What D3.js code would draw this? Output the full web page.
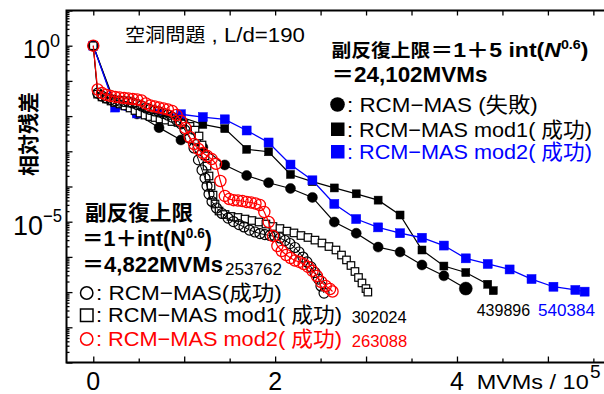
<!DOCTYPE html>
<html>
<head>
<meta charset="utf-8">
<script src="https://cdn.jsdelivr.net/npm/d3@7"></script>
<style>
  html, body { margin: 0; padding: 0; background: #fff; }
  svg { display: block; }
  text { white-space: pre; }
</style>
</head>
<body>
<svg id="chart" width="604" height="394"></svg>
<script>
// Convergence history: relative residual vs. number of MVMs (in units of 1e5)

// RCM-MAS (失敗), restart limit 24,102 MVMs
const failX = [0, 0.241, 0.482, 0.723, 0.964, 1.205, 1.446, 1.687, 1.928, 2.169, 2.410, 2.651, 2.892, 3.133, 3.374, 3.615, 3.856, 4.097];
const failY = [1, 2.2e-2, 1.15e-2, 4.7e-3, 2.1e-3, 1.3e-3, 4.1e-4, 2.05e-4, 1.28e-4, 8.8e-5, 4.9e-5, 9.8e-6, 4.7e-6, 1.9e-6, 1.38e-6, 5.9e-7, 2.9e-7, 1.26e-7];

// RCM-MAS mod1 (成功), restart limit 24,102 MVMs, total 439896
const mod1LongX = [0, 0.241, 0.482, 0.723, 0.964, 1.205, 1.446, 1.687, 1.928, 2.169, 2.410, 2.651, 2.892, 3.133, 3.374, 3.615, 3.856, 4.097, 4.338, 4.399];
const mod1LongY = [1, 1.94e-2, 1.3e-2, 1.07e-2, 9.4e-3, 5.8e-3, 4.4e-3, 1.14e-3, 9.7e-4, 2.2e-4, 1.37e-4, 9.1e-5, 6.2e-5, 4.1e-5, 1.55e-5, 1.57e-6, 5.5e-7, 3.6e-7, 1.67e-7, 1.1e-7];

// RCM-MAS mod2 (成功), restart limit 24,102 MVMs, total 540384
const mod2LongX = [0, 0.241, 0.482, 0.723, 0.964, 1.205, 1.446, 1.687, 1.928, 2.169, 2.410, 2.651, 2.892, 3.133, 3.374, 3.615, 3.856, 4.097, 4.338, 4.579, 4.820, 5.061, 5.302, 5.404];
const mod2LongY = [1, 1.75e-2, 1.19e-2, 1.15e-2, 1.13e-2, 9.4e-3, 8.1e-3, 3.9e-3, 1.78e-3, 4.2e-4, 1.5e-4, 3.2e-5, 1.19e-5, 6.9e-6, 4.7e-6, 3.5e-6, 2.1e-6, 9.1e-7, 6.3e-7, 4.4e-7, 2.35e-7, 1.42e-7, 1.15e-7, 1.03e-7];

// RCM-MAS (成功), restart limit 4,822 MVMs, total 253762
const rcmShortX = [0, 0.048, 0.096, 0.145, 0.195, 0.239, 0.289, 0.338, 0.386, 0.433, 0.481, 0.530, 0.580, 0.624, 0.675, 0.723, 0.771, 0.819, 0.866, 0.916, 0.965, 1.009, 1.060, 1.108, 1.157, 1.196, 1.229, 1.251, 1.273, 1.306, 1.355, 1.416, 1.482, 1.542, 1.603, 1.658, 1.718, 1.778, 1.833, 1.888, 1.943, 1.998, 2.053, 2.108, 2.163, 2.218, 2.262, 2.306, 2.350, 2.394, 2.438, 2.477, 2.504, 2.538];
const rcmShortY = [1, 4.5e-2, 3.7e-2, 3.27e-2, 2.96e-2, 2.77e-2, 2.68e-2, 2.6e-2, 2.52e-2, 2.36e-2, 2.14e-2, 1.94e-2, 1.7e-2, 1.54e-2, 1.4e-2, 1.31e-2, 1.19e-2, 1.07e-2, 9.4e-3, 7.7e-3, 6.0e-3, 4.0e-3, 2.39e-3, 1.24e-3, 5.7e-4, 2.94e-4, 1.74e-4, 1.03e-4, 6.1e-5, 3.75e-5, 2.45e-5, 1.71e-5, 1.27e-5, 1.01e-5, 8.3e-6, 7.1e-6, 5.8e-6, 5.1e-6, 4.6e-6, 4.3e-6, 4.05e-6, 3.8e-6, 3.44e-6, 2.92e-6, 2.4e-6, 1.85e-6, 1.38e-6, 9.9e-7, 7.2e-7, 5.2e-7, 3.6e-7, 2.35e-7, 1.49e-7, 9.4e-8];

// RCM-MAS mod1 (成功), restart limit 4,822 MVMs, total 302024
const mod1ShortX = [0, 0.048, 0.096, 0.145, 0.195, 0.239, 0.294, 0.349, 0.404, 0.459, 0.514, 0.569, 0.624, 0.679, 0.734, 0.800, 0.866, 0.932, 0.998, 1.064, 1.119, 1.163, 1.196, 1.229, 1.251, 1.273, 1.295, 1.317, 1.339, 1.383, 1.449, 1.515, 1.592, 1.669, 1.746, 1.823, 1.899, 1.976, 2.053, 2.130, 2.207, 2.284, 2.361, 2.438, 2.515, 2.592, 2.669, 2.730, 2.785, 2.834, 2.878, 2.917, 2.955, 2.999, 3.020];
const mod1ShortY = [1, 4.2e-2, 3.5e-2, 3.06e-2, 2.68e-2, 2.43e-2, 2.21e-2, 1.94e-2, 1.7e-2, 1.44e-2, 1.22e-2, 1.07e-2, 9.7e-3, 9.1e-3, 8.3e-3, 7.7e-3, 7.0e-3, 6.6e-3, 6.0e-3, 5.1e-3, 4.0e-3, 2.72e-3, 1.51e-3, 7.4e-4, 3.8e-4, 1.99e-4, 1.03e-4, 5.7e-5, 3.18e-5, 2.01e-5, 1.6e-5, 1.41e-5, 1.32e-5, 1.19e-5, 1.08e-5, 9.8e-6, 8.6e-6, 7.3e-6, 6.4e-6, 5.4e-6, 4.8e-6, 4.05e-6, 3.56e-6, 3.0e-6, 2.48e-6, 1.97e-6, 1.57e-6, 1.13e-6, 8.2e-7, 5.7e-7, 3.85e-7, 2.6e-7, 1.82e-7, 1.26e-7, 1.0e-7];

// RCM-MAS mod2 (成功), restart limit 4,822 MVMs, total 263088
const mod2ShortX = [0, 0.048, 0.096, 0.145, 0.193, 0.241, 0.289, 0.338, 0.386, 0.434, 0.482, 0.530, 0.579, 0.627, 0.675, 0.723, 0.772, 0.820, 0.868, 0.916, 0.964, 1.013, 1.061, 1.109, 1.157, 1.206, 1.254, 1.302, 1.350, 1.398, 1.447, 1.495, 1.543, 1.591, 1.640, 1.688, 1.736, 1.784, 1.832, 1.881, 1.929, 1.977, 2.025, 2.073, 2.122, 2.170, 2.218, 2.266, 2.315, 2.363, 2.411, 2.459, 2.507, 2.556, 2.604, 2.631];
const mod2ShortY = [1, 5.7e-2, 4.5e-2, 4.0e-2, 3.7e-2, 3.5e-2, 3.4e-2, 3.27e-2, 3.16e-2, 3.06e-2, 2.96e-2, 2.77e-2, 2.28e-2, 2.0e-2, 1.87e-2, 1.75e-2, 1.64e-2, 1.54e-2, 1.4e-2, 1.07e-2, 7.3e-3, 4.6e-3, 2.55e-3, 1.61e-3, 1.16e-3, 8.9e-4, 7.3e-4, 6.0e-4, 4.4e-4, 1.43e-4, 5.4e-5, 4.4e-5, 4.1e-5, 4.0e-5, 3.87e-5, 3.63e-5, 3.5e-5, 3.29e-5, 2.98e-5, 1.89e-5, 9.8e-6, 3.9e-6, 2.04e-6, 1.47e-6, 1.13e-6, 9.3e-7, 7.9e-7, 7.2e-7, 6.3e-7, 5.2e-7, 4.0e-7, 2.86e-7, 1.94e-7, 1.49e-7, 1.22e-7, 1.04e-7];

// Axis tick labels
const xTickLabels = [0, 2, 4];
const yTickLabels = [{ v: 1, exp: "0" }, { v: 1e-5, exp: "−5" }];

const FONT = "'Liberation Sans', Arial, 'Noto Sans CJK JP', sans-serif";
const BLUE = "#0000ff", RED = "#ff0000";

const svg = d3.select("#chart");

const x = d3.scaleLinear().domain([-0.3, 5.65]).range([66, 607]);
const y = d3.scaleLog().domain([1e-9, 1e1]).range([362.5, 10.5]);

const [xL, xR] = [66.5, 606];
const [yT, yB] = [y(1e1), y(1e-9)];

// ---- axes (ticks point inward) ----
const halfSteps = d3.range(0, 5.51, 0.5);
const wholeSteps = d3.range(0, 5.01, 1);
function clean(g) { g.select(".domain").remove(); g.selectAll("line").attr("stroke", "#000").attr("stroke-width", 1.3); }

svg.append("g").attr("transform", `translate(0,${yB})`)
  .call(d3.axisBottom(x).tickValues(halfSteps.filter(v => v % 1 !== 0)).tickSize(-4).tickFormat(""))
  .call(clean);
svg.append("g").attr("transform", `translate(0,${yB})`)
  .call(d3.axisBottom(x).tickValues(wholeSteps).tickSize(-6).tickFormat(""))
  .call(clean);
svg.append("g").attr("transform", `translate(0,${yT})`)
  .call(d3.axisTop(x).tickValues(halfSteps).tickSize(-5).tickFormat(""))
  .call(clean);

const decades = d3.range(-9, 2).map(e => Math.pow(10, e));
const minors = [];
decades.slice(0, -1).forEach(d => { for (let m = 2; m <= 9; m++) minors.push(d * m); });
svg.append("g").attr("transform", `translate(${xL},0)`)
  .call(d3.axisLeft(y).tickValues(decades).tickSize(-6).tickFormat(""))
  .call(clean);
svg.append("g").attr("transform", `translate(${xL},0)`)
  .call(d3.axisLeft(y).tickValues(minors).tickSize(-3).tickFormat(""))
  .call(clean);

// frame
svg.append("path")
  .attr("d", `M${xR},${yT}H${xL}V${yB}H${xR}`)
  .attr("fill", "none").attr("stroke", "#000").attr("stroke-width", 2);

// ---- text helper: segments laid out in one line, optionally squeezed to a width ----
function rich(x0, y0, segs, opts = {}) {
  const t = svg.append("text").attr("font-family", FONT).attr("fill", opts.fill || "#000");
  let prev = 0;
  segs.forEach(s => {
    const rise = s.rise || 0;
    const ts = t.append("tspan").text(s.t)
      .attr("font-size", s.size)
      .attr("font-weight", s.bold ? "bold" : "normal")
      .attr("font-style", s.italic ? "italic" : "normal");
    if (rise !== prev) ts.attr("dy", -(rise - prev));
    prev = rise;
  });
  const w = t.node().getComputedTextLength();
  const target = opts.width || w;
  const sx = target / w;
  let left = x0;
  if (opts.anchor === "middle") left = x0 - target / 2;
  if (opts.anchor === "end") left = x0 - target;
  t.attr("transform", `translate(${left},${y0}) scale(${sx},1)`);
  return t;
}

// ---- series ----
function zip(xs, ys) { return xs.map((v, i) => ({ x: v, y: ys[i] })); }
const line = d3.line().x(d => x(d.x)).y(d => y(d.y));

function drawLine(data, color, width) {
  svg.append("path").datum(data).attr("d", line)
    .attr("fill", "none").attr("stroke", color).attr("stroke-width", width);
}
function drawCircles(data, r, fill, stroke, sw) {
  svg.append("g").selectAll("circle").data(data).join("circle")
    .attr("cx", d => x(d.x)).attr("cy", d => y(d.y))
    .attr("r", (d, i) => (typeof r === "function" ? r(i, data.length) : r))
    .attr("fill", fill).attr("stroke", stroke).attr("stroke-width", sw);
}
function drawSquares(data, s, fill, stroke, sw) {
  svg.append("g").selectAll("rect").data(data).join("rect")
    .attr("x", d => x(d.x) - s / 2).attr("y", d => y(d.y) - s / 2)
    .attr("width", s).attr("height", s)
    .attr("fill", fill).attr("stroke", stroke).attr("stroke-width", sw);
}

const fail = zip(failX, failY);
const mod1Long = zip(mod1LongX, mod1LongY);
const mod2Long = zip(mod2LongX, mod2LongY);
const rcmShort = zip(rcmShortX, rcmShortY);
const mod1Short = zip(mod1ShortX, mod1ShortY);
const mod2Short = zip(mod2ShortX, mod2ShortY);

drawLine(fail, "#000", 1.2);
drawCircles(fail, (i, n) => (i === n - 1 ? 6.5 : 5), "#000", "#000", 0.5);
drawLine(mod1Long, "#000", 1.2);
drawSquares(mod1Long, 8, "#000", "#000", 0.5);
drawLine(mod2Long, BLUE, 1.3);
drawSquares(mod2Long, 9, BLUE, BLUE, 0.5);

drawLine(mod1Short, "#000", 1);
drawSquares(mod1Short, 7.5, "#fff", "#000", 1.2);
drawLine(rcmShort, "#000", 1);
drawCircles(rcmShort, 5, "none", "#000", 1.2);
drawLine(mod2Short, RED, 1.2);
drawCircles(mod2Short, 5.6, "none", RED, 1.3);

// ---- axis labels ----
xTickLabels.forEach(v => rich(x(v), 390, [{ t: String(v), size: 25 }], { anchor: "middle" }));
rich(476.7, 389, [{ t: "MVMs / 10", size: 21 }], { width: 112 });
rich(590, 377.5, [{ t: "5", size: 19 }]);

rich(50, 58, [{ t: "10", size: 25 }], { anchor: "end", width: 27 });
rich(50, 46.5, [{ t: yTickLabels[0].exp, size: 18 }]);
rich(43, 235, [{ t: "10", size: 27 }], { anchor: "end", width: 30 });
rich(43, 221.5, [{ t: yTickLabels[1].exp, size: 18 }], { width: 19 });

svg.append("text")
  .attr("transform", `translate(36,134) rotate(-90)`)
  .attr("text-anchor", "middle")
  .attr("font-family", FONT).attr("font-size", 21).attr("font-weight", "bold")
  .text("相対残差");

// ---- title ----
rich(125, 41.5, [{ t: "空洞問題", size: 19 }, { t: " , L/d=190", size: 21 }], { width: 180 });

// ---- upper-right legend ----
rich(331.5, 57, [
  { t: "副反復上限", size: 18, bold: true },
  { t: "＝1＋5 int(", size: 21, bold: true },
  { t: "N", size: 21, bold: true, italic: true },
  { t: "0.6", size: 13, bold: true, rise: 8 },
  { t: ")", size: 21, bold: true }
], { width: 257 });
rich(331.5, 82, [{ t: "＝24,102MVMs", size: 22, bold: true }], { width: 156 });

svg.append("circle").attr("cx", 337.5).attr("cy", 104.5).attr("r", 7.3).attr("fill", "#000");
rich(347, 111.7, [{ t: ": RCM−MAS (失敗)", size: 21 }], { width: 191 });
svg.append("rect").attr("x", 331).attr("y", 122.5).attr("width", 13.5).attr("height", 13.5).attr("fill", "#000");
rich(347, 136.5, [{ t: ": RCM−MAS mod1( 成功)", size: 21 }], { width: 245 });
svg.append("rect").attr("x", 331).attr("y", 145).attr("width", 13.5).attr("height", 13.5).attr("fill", BLUE);
rich(347, 159, [{ t: ": RCM−MAS mod2( 成功)", size: 21 }], { width: 245, fill: BLUE });

// ---- lower-left legend ----
rich(85, 220, [{ t: "副反復上限", size: 21, bold: true }], { width: 108 });
rich(82, 246, [
  { t: "＝1＋int(", size: 22, bold: true },
  { t: "N", size: 22, bold: true },
  { t: "0.6", size: 14, bold: true, rise: 8 },
  { t: ")", size: 22, bold: true }
], { width: 130 });
rich(82, 271.5, [{ t: "＝4,822MVMs", size: 22, bold: true }], { width: 141 });
rich(225, 275, [{ t: "253762", size: 17 }], { width: 57 });

svg.append("circle").attr("cx", 86.7).attr("cy", 293).attr("r", 6.2)
  .attr("fill", "none").attr("stroke", "#000").attr("stroke-width", 1.5);
rich(96, 300, [{ t: ": RCM−MAS(成功)", size: 21 }], { width: 186 });
svg.append("rect").attr("x", 80.5).attr("y", 309).attr("width", 12.5).attr("height", 12.5)
  .attr("fill", "none").attr("stroke", "#000").attr("stroke-width", 1.5);
rich(96, 322, [{ t: ": RCM−MAS mod1( 成功)", size: 21 }], { width: 246 });
rich(351.7, 323, [{ t: "302024", size: 17 }], { width: 55 });
svg.append("circle").attr("cx", 86.7).attr("cy", 339).attr("r", 6.2)
  .attr("fill", "none").attr("stroke", RED).attr("stroke-width", 1.5);
rich(96, 346, [{ t: ": RCM−MAS mod2( 成功)", size: 21 }], { width: 246, fill: RED });
rich(351.7, 347, [{ t: "263088", size: 17 }], { width: 55.5, fill: RED });

// ---- totals for the long-restart runs ----
rich(476.7, 315.5, [{ t: "439896", size: 17 }], { width: 53.5 });
rich(538, 315.5, [{ t: "540384", size: 17 }], { width: 57, fill: BLUE });
</script>
</body>
</html>
